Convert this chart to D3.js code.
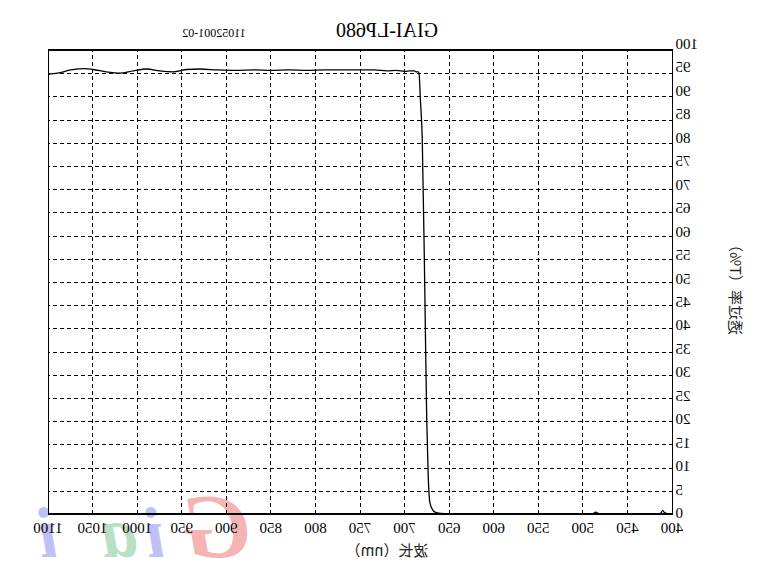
<!DOCTYPE html>
<html><head><meta charset="utf-8">
<script src="https://cdn.jsdelivr.net/npm/d3@7"></script>
<style>html,body{margin:0;padding:0;background:#fff;}svg{display:block;}</style>
</head><body>
<script>
// ---- data ----
const wavelength = [400, 405, 409, 411, 413, 416, 470, 482, 486, 490, 560, 620, 650, 660, 666.4, 669, 672.1, 674, 675.7, 678, 680.7, 683, 684, 685, 687, 690, 695, 700, 710, 720, 735, 750, 770, 790, 810, 830, 850, 870, 890, 910, 930, 945, 960, 975, 990, 1005, 1020, 1035, 1050, 1060, 1075, 1090, 1100];
const transmit   = [0.05, 0.05, 0.3, 0.8, 0.2, 0.05, 0.05, 0.05, 0.4, 0.05, 0.05, 0.05, 0.05, 0.15, 0.4, 0.9, 2.4, 8, 20.3, 50, 80.6, 90, 94.3, 95.3, 95.3, 95.5, 95.5, 95.4, 95.6, 95.5, 95.7, 95.7, 95.7, 95.7, 95.6, 95.7, 95.6, 95.7, 95.6, 95.7, 95.9, 95.8, 95.3, 95.5, 95.9, 95.5, 95.0, 95.3, 95.8, 96.0, 95.7, 95.0, 94.8];
const xTicks = [400, 450, 500, 550, 600, 650, 700, 750, 800, 850, 900, 950, 1000, 1050, 1100];
const yTicks = [0, 5, 10, 15, 20, 25, 30, 35, 40, 45, 50, 55, 60, 65, 70, 75, 80, 85, 90, 95, 100];
const title = "GIAI-LP680";
const subtitle = "11052001-02";
const xLabel = "波长（nm）";
const yLabel = "透过率（T%）";
const watermark = ["G", "i", "a", "i"];
const watermarkColors = ["#f5b3b3", "#bfc0f5", "#b9dfc4", "#bfc0f5"];

// ---- layout ----
const W = 761, H = 582;
const L = 88.5, R = 712.5, T = 50, B = 514;
const serif = "'Liberation Serif','Times New Roman',serif";
const cjk = "'Noto Sans CJK SC','Noto Sans CJK JP',sans-serif";

const svg = d3.select("body").append("svg").attr("width", W).attr("height", H);
// the whole picture is mirrored horizontally
const g = svg.append("g").attr("transform", `translate(${W},0) scale(-1,1)`);

const x = d3.scaleLinear().domain([400, 1100]).range([L, R]);
const y = d3.scaleLinear().domain([0, 100]).range([B, T]);

// watermark
const wmX = [544, 606, 642, 713];
const wmSize = [92, 72, 72, 72];
g.append("g").selectAll("text").data(watermark).join("text")
  .attr("x", (d, i) => wmX[i]).attr("y", 557)
  .attr("text-anchor", "middle")
  .attr("font-family", serif).attr("font-style", "italic").attr("font-weight", "bold")
  .attr("font-size", (d, i) => wmSize[i])
  .attr("fill", (d, i) => watermarkColors[i])
  .text(d => d);

// grid lines
const gridX = g.append("g").attr("transform", `translate(0,${B})`)
  .call(d3.axisBottom(x).tickValues(xTicks.filter(v => v > 400 && v < 1100)).tickSize(-(B - T)).tickFormat(""));
gridX.select(".domain").remove();
gridX.selectAll("line").attr("stroke", "#000").attr("stroke-dasharray", "4,3").attr("shape-rendering", "crispEdges");

const gridY = g.append("g").attr("transform", `translate(${L},0)`)
  .call(d3.axisLeft(y).tickValues(yTicks.filter(v => v > 0 && v < 100)).tickSize(-(R - L)).tickFormat(""));
gridY.select(".domain").remove();
gridY.selectAll("line").attr("stroke", "#000").attr("stroke-dasharray", "4,3").attr("shape-rendering", "crispEdges");

// frame
g.append("rect").attr("x", L).attr("y", T).attr("width", R - L).attr("height", B - T)
  .attr("fill", "none").attr("stroke", "#000").attr("stroke-width", 1.2).attr("shape-rendering", "crispEdges");

// axes labels via axes
const ax = g.append("g").attr("transform", `translate(0,${B})`)
  .call(d3.axisBottom(x).tickValues(xTicks).tickSize(0).tickFormat(d3.format("d")));
ax.select(".domain").remove();
ax.selectAll("text").attr("y", 19).attr("dy", null)
  .attr("font-family", serif).attr("font-size", 15).attr("fill", "#000");

const ay = g.append("g").attr("transform", `translate(${L},0)`)
  .call(d3.axisLeft(y).tickValues(yTicks).tickSize(0).tickFormat(d3.format("d")));
ay.select(".domain").remove();
ay.selectAll("text").attr("x", -3).attr("dy", null)
  .attr("y", d => 3.5 - 5 * d / 100)
  .attr("text-anchor", "end")
  .attr("font-family", serif).attr("font-size", 15).attr("fill", "#000");

// curve
const pts = wavelength.map((w, i) => [w, transmit[i]]);
g.append("path").datum(pts)
  .attr("fill", "none").attr("stroke", "#000").attr("stroke-width", 1.3)
  .attr("d", d3.line().x(d => x(d[0])).y(d => y(d[1])).curve(d3.curveMonotoneX));

// titles
g.append("text").attr("x", 374).attr("y", 37).attr("text-anchor", "middle")
  .attr("font-family", serif).attr("font-size", 20).text(title);
g.append("text").attr("x", 547).attr("y", 37).attr("text-anchor", "middle")
  .attr("font-family", serif).attr("font-size", 12).text(subtitle);
g.append("text").attr("x", 374).attr("y", 556).attr("text-anchor", "middle")
  .attr("font-family", cjk).attr("font-size", 15).attr("fill", "#222").text(xLabel);
g.append("text").attr("transform", "translate(31,286) rotate(-90)").attr("text-anchor", "middle")
  .attr("font-family", cjk).attr("font-size", 15).attr("fill", "#222").text(yLabel);
</script>
</body></html>
